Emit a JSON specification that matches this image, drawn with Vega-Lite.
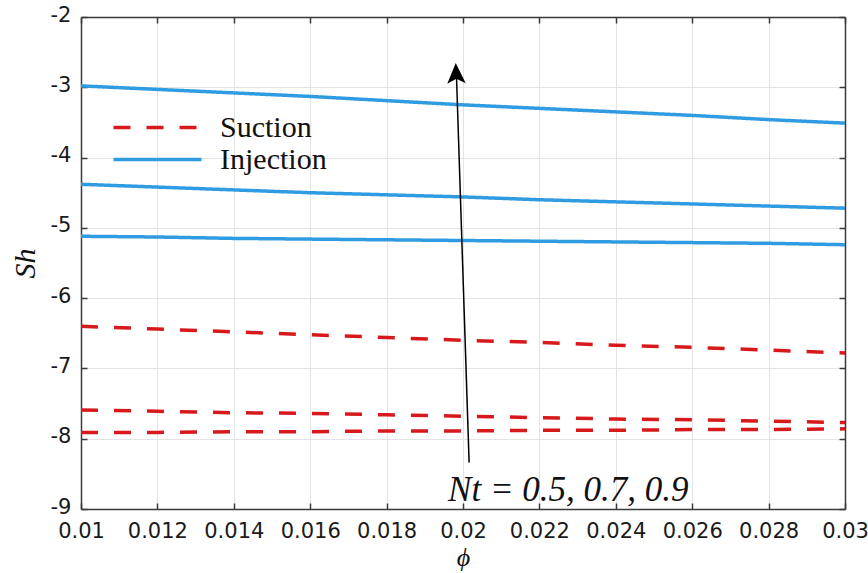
{
  "$schema": "https://vega.github.io/schema/vega-lite/v6.json",
  "width": 764,
  "height": 492,
  "autosize": {"type": "none"},
  "padding": {"left": 81, "top": 17, "right": 23, "bottom": 64},
  "background": "white",
  "config": {
    "view": {"stroke": null},
    "axis": {
      "labelFont": "DejaVu Sans",
      "labelFontSize": 21,
      "labelColor": "#1a1a1a",
      "domainColor": "#3a3a3a",
      "domainWidth": 1.5,
      "tickColor": "#3a3a3a",
      "tickWidth": 1.5,
      "gridColor": "#e3e3e3",
      "gridWidth": 1,
      "titleFont": "Liberation Serif",
      "titleFontStyle": "italic",
      "titleFontWeight": "normal",
      "titleFontSize": 30,
      "titleColor": "#111111"
    }
  },
  "datasets": {
    "curves": [
      {"phi": 0.010, "Sh": -2.98, "type": "Injection", "Nt": "0.9"},
      {"phi": 0.012, "Sh": -3.03, "type": "Injection", "Nt": "0.9"},
      {"phi": 0.014, "Sh": -3.08, "type": "Injection", "Nt": "0.9"},
      {"phi": 0.016, "Sh": -3.13, "type": "Injection", "Nt": "0.9"},
      {"phi": 0.018, "Sh": -3.19, "type": "Injection", "Nt": "0.9"},
      {"phi": 0.020, "Sh": -3.25, "type": "Injection", "Nt": "0.9"},
      {"phi": 0.022, "Sh": -3.30, "type": "Injection", "Nt": "0.9"},
      {"phi": 0.024, "Sh": -3.35, "type": "Injection", "Nt": "0.9"},
      {"phi": 0.026, "Sh": -3.40, "type": "Injection", "Nt": "0.9"},
      {"phi": 0.028, "Sh": -3.46, "type": "Injection", "Nt": "0.9"},
      {"phi": 0.030, "Sh": -3.51, "type": "Injection", "Nt": "0.9"},
      {"phi": 0.010, "Sh": -4.38, "type": "Injection", "Nt": "0.7"},
      {"phi": 0.012, "Sh": -4.42, "type": "Injection", "Nt": "0.7"},
      {"phi": 0.014, "Sh": -4.46, "type": "Injection", "Nt": "0.7"},
      {"phi": 0.016, "Sh": -4.50, "type": "Injection", "Nt": "0.7"},
      {"phi": 0.018, "Sh": -4.53, "type": "Injection", "Nt": "0.7"},
      {"phi": 0.020, "Sh": -4.56, "type": "Injection", "Nt": "0.7"},
      {"phi": 0.022, "Sh": -4.60, "type": "Injection", "Nt": "0.7"},
      {"phi": 0.024, "Sh": -4.63, "type": "Injection", "Nt": "0.7"},
      {"phi": 0.026, "Sh": -4.66, "type": "Injection", "Nt": "0.7"},
      {"phi": 0.028, "Sh": -4.69, "type": "Injection", "Nt": "0.7"},
      {"phi": 0.030, "Sh": -4.72, "type": "Injection", "Nt": "0.7"},
      {"phi": 0.010, "Sh": -5.12, "type": "Injection", "Nt": "0.5"},
      {"phi": 0.012, "Sh": -5.13, "type": "Injection", "Nt": "0.5"},
      {"phi": 0.014, "Sh": -5.15, "type": "Injection", "Nt": "0.5"},
      {"phi": 0.016, "Sh": -5.16, "type": "Injection", "Nt": "0.5"},
      {"phi": 0.018, "Sh": -5.17, "type": "Injection", "Nt": "0.5"},
      {"phi": 0.020, "Sh": -5.18, "type": "Injection", "Nt": "0.5"},
      {"phi": 0.022, "Sh": -5.19, "type": "Injection", "Nt": "0.5"},
      {"phi": 0.024, "Sh": -5.20, "type": "Injection", "Nt": "0.5"},
      {"phi": 0.026, "Sh": -5.21, "type": "Injection", "Nt": "0.5"},
      {"phi": 0.028, "Sh": -5.22, "type": "Injection", "Nt": "0.5"},
      {"phi": 0.030, "Sh": -5.24, "type": "Injection", "Nt": "0.5"},
      {"phi": 0.010, "Sh": -6.40, "type": "Suction", "Nt": "0.9"},
      {"phi": 0.012, "Sh": -6.44, "type": "Suction", "Nt": "0.9"},
      {"phi": 0.014, "Sh": -6.48, "type": "Suction", "Nt": "0.9"},
      {"phi": 0.016, "Sh": -6.52, "type": "Suction", "Nt": "0.9"},
      {"phi": 0.018, "Sh": -6.56, "type": "Suction", "Nt": "0.9"},
      {"phi": 0.020, "Sh": -6.60, "type": "Suction", "Nt": "0.9"},
      {"phi": 0.022, "Sh": -6.63, "type": "Suction", "Nt": "0.9"},
      {"phi": 0.024, "Sh": -6.67, "type": "Suction", "Nt": "0.9"},
      {"phi": 0.026, "Sh": -6.70, "type": "Suction", "Nt": "0.9"},
      {"phi": 0.028, "Sh": -6.74, "type": "Suction", "Nt": "0.9"},
      {"phi": 0.030, "Sh": -6.78, "type": "Suction", "Nt": "0.9"},
      {"phi": 0.010, "Sh": -7.59, "type": "Suction", "Nt": "0.7"},
      {"phi": 0.012, "Sh": -7.61, "type": "Suction", "Nt": "0.7"},
      {"phi": 0.014, "Sh": -7.63, "type": "Suction", "Nt": "0.7"},
      {"phi": 0.016, "Sh": -7.64, "type": "Suction", "Nt": "0.7"},
      {"phi": 0.018, "Sh": -7.66, "type": "Suction", "Nt": "0.7"},
      {"phi": 0.020, "Sh": -7.68, "type": "Suction", "Nt": "0.7"},
      {"phi": 0.022, "Sh": -7.70, "type": "Suction", "Nt": "0.7"},
      {"phi": 0.024, "Sh": -7.72, "type": "Suction", "Nt": "0.7"},
      {"phi": 0.026, "Sh": -7.73, "type": "Suction", "Nt": "0.7"},
      {"phi": 0.028, "Sh": -7.75, "type": "Suction", "Nt": "0.7"},
      {"phi": 0.030, "Sh": -7.77, "type": "Suction", "Nt": "0.7"},
      {"phi": 0.010, "Sh": -7.91, "type": "Suction", "Nt": "0.5"},
      {"phi": 0.012, "Sh": -7.91, "type": "Suction", "Nt": "0.5"},
      {"phi": 0.014, "Sh": -7.90, "type": "Suction", "Nt": "0.5"},
      {"phi": 0.016, "Sh": -7.90, "type": "Suction", "Nt": "0.5"},
      {"phi": 0.018, "Sh": -7.89, "type": "Suction", "Nt": "0.5"},
      {"phi": 0.020, "Sh": -7.89, "type": "Suction", "Nt": "0.5"},
      {"phi": 0.022, "Sh": -7.88, "type": "Suction", "Nt": "0.5"},
      {"phi": 0.024, "Sh": -7.88, "type": "Suction", "Nt": "0.5"},
      {"phi": 0.026, "Sh": -7.87, "type": "Suction", "Nt": "0.5"},
      {"phi": 0.028, "Sh": -7.87, "type": "Suction", "Nt": "0.5"},
      {"phi": 0.030, "Sh": -7.86, "type": "Suction", "Nt": "0.5"}
    ],
    "arrow": [
      {"phi": 0.02016, "Sh": -8.34},
      {"phi": 0.01983, "Sh": -2.85}
    ],
    "head": [
      {"phi": 0.01982, "Sh": -2.80}
    ],
    "note": [
      {"phi": 0.01961, "Sh": -8.73, "label": "Nt = 0.5, 0.7, 0.9"}
    ]
  },
  "layer": [
    {
      "data": {"name": "curves"},
      "mark": {"type": "line", "strokeWidth": 3.5, "strokeCap": "butt"},
      "encoding": {
        "x": {
          "field": "phi", "type": "quantitative",
          "scale": {"domain": [0.01, 0.03], "nice": false, "zero": false},
          "axis": {
            "orient": "bottom", "title": "ϕ", "titleFontSize": 26, "titleBaseline": "alphabetic", "titleY": 56,
            "values": [0.01, 0.012, 0.014, 0.016, 0.018, 0.02, 0.022, 0.024, 0.026, 0.028, 0.03],
            "labelExpr": "toString(datum.value)",
            "tickSize": -6, "labelPadding": 17, "grid": true, "labelFlush": false, "labelOverlap": false
          }
        },
        "y": {
          "field": "Sh", "type": "quantitative",
          "scale": {"domain": [-9, -2], "nice": false, "zero": false},
          "axis": {
            "orient": "left", "title": "Sh", "titlePadding": 10,
            "values": [-9, -8, -7, -6, -5, -4, -3, -2],
            "labelExpr": "toString(datum.value)",
            "tickSize": -6, "labelPadding": 16, "grid": true, "labelFlush": false, "labelOverlap": false, "labelOffset": -2
          }
        },
        "color": {
          "field": "type", "type": "nominal",
          "scale": {"domain": ["Suction", "Injection"], "range": ["#d7191c", "#2f9be0"]},
          "legend": {
            "title": null, "orient": "none", "legendX": 60, "legendY": 94,
            "symbolType": "M-3,0L3,0", "symbolSize": 860, "symbolStrokeWidth": 3.5, "symbolFillColor": "transparent",
            "labelFont": "Liberation Serif", "labelFontSize": 30, "labelColor": "#111111",
            "labelOffset": 46, "rowPadding": 0, "padding": 0
          }
        },
        "strokeDash": {
          "field": "type", "type": "nominal",
          "scale": {"domain": ["Suction", "Injection"], "range": [[17, 16], [1, 0]]},
          "legend": {
            "title": null, "orient": "none", "legendX": 60, "legendY": 94,
            "symbolType": "M-3,0L3,0", "symbolSize": 860, "symbolStrokeWidth": 3.5, "symbolFillColor": "transparent",
            "labelFont": "Liberation Serif", "labelFontSize": 30, "labelColor": "#111111",
            "labelOffset": 46, "rowPadding": 0, "padding": 0
          }
        },
        "detail": {"field": "Nt", "type": "nominal"}
      }
    },
    {
      "data": {"name": "arrow"},
      "mark": {"type": "line", "color": "black", "strokeWidth": 1.5},
      "encoding": {
        "x": {
          "field": "phi", "type": "quantitative",
          "axis": {
            "orient": "top", "title": null, "labels": false, "grid": false,
            "values": [0.01, 0.012, 0.014, 0.016, 0.018, 0.02, 0.022, 0.024, 0.026, 0.028, 0.03],
            "tickSize": -6
          }
        },
        "y": {
          "field": "Sh", "type": "quantitative",
          "axis": {
            "orient": "right", "title": null, "labels": false, "grid": false,
            "values": [-9, -8, -7, -6, -5, -4, -3, -2],
            "tickSize": -6
          }
        }
      }
    },
    {
      "data": {"name": "head"},
      "mark": {"type": "point", "shape": "M0,-1L0.9,1L0,0.55L-0.9,1Z", "filled": true, "color": "black", "opacity": 1, "size": 420, "angle": -2},
      "encoding": {
        "x": {"field": "phi", "type": "quantitative", "axis": null},
        "y": {"field": "Sh", "type": "quantitative", "axis": null}
      }
    },
    {
      "data": {"name": "note"},
      "mark": {"type": "text", "align": "left", "baseline": "middle", "font": "Liberation Serif", "fontStyle": "italic", "fontSize": 35, "color": "#111111"},
      "encoding": {
        "x": {"field": "phi", "type": "quantitative", "axis": null},
        "y": {"field": "Sh", "type": "quantitative", "axis": null},
        "text": {"field": "label", "type": "nominal"}
      }
    }
  ],
  "resolve": {"axis": {"x": "independent", "y": "independent"}}
}
